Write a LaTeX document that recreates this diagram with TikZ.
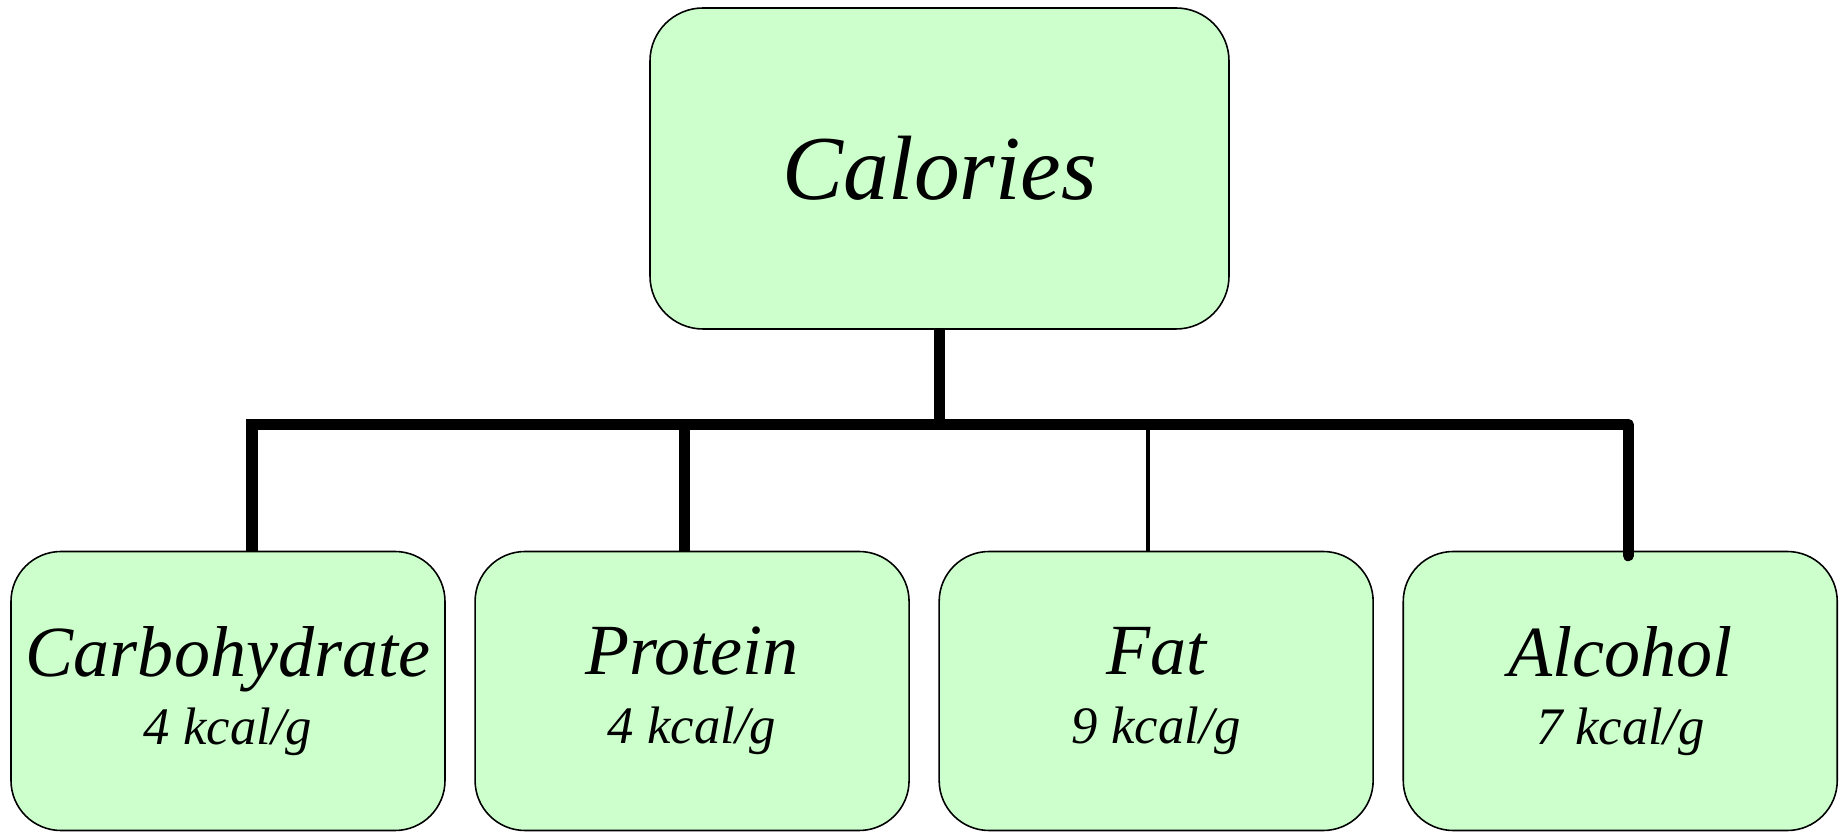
\documentclass[tikz,border=0pt]{standalone}
\usepackage{fontspec}
\setmainfont{Liberation Serif}
\usetikzlibrary{positioning}

\definecolor{boxgreen}{HTML}{CCFFCC}

\begin{document}
\begin{tikzpicture}[
    line join=miter,
    block/.style={draw, fill=boxgreen, line width=0.9pt, rounded corners=1cm, inner sep=0pt,
                  align=center, minimum width=8.68cm, minimum height=5.58cm,
                  font=\itshape\fontsize{30}{39}\selectfont},
    head/.style={block, rounded corners=1.06cm, minimum width=11.58cm, minimum height=6.42cm,
                 font=\itshape\fontsize{52}{60}\selectfont},
    trunk/.style={line width=6.3pt, line cap=butt},
    twig/.style={line width=2.3pt, line cap=butt}
]
\useasboundingbox (0,0) rectangle (36.88,-16.64);

% ------------------------
% Boxes
% ------------------------
\node[head] (cal) at (18.79,-3.37) {Calories};

\node[block] (carb) at (4.56,-13.82) {{\fontsize{41}{41}\selectfont Carbohydrate}\\4 kcal/g};
\node[block, right=0.57cm of carb] (prot) {{\fontsize{41}{41}\selectfont Protein}\\4 kcal/g};
\node[block, right=0.57cm of prot] (fat) {{\fontsize{41}{41}\selectfont Fat}\\9 kcal/g};
\node[block, right=0.57cm of fat] (alc) {{\fontsize{41}{41}\selectfont Alcohol}\\7 kcal/g};

% ------------------------
% Connectors
% ------------------------
\coordinate (bus) at (18.79,-8.49);
\coordinate (busR) at ([xshift=0.16cm]alc.north |- bus);

\draw[trunk] (cal.south) -- (bus);
\draw[trunk] ([xshift=0.48cm]carb.north) |- (busR);
\draw[trunk] ([xshift=-0.16cm]prot.north) -- ([xshift=-0.16cm]prot.north |- bus);
\draw[twig] ([xshift=-0.17cm]fat.north) -- ([xshift=-0.17cm]fat.north |- bus);
\draw[trunk, line cap=round] (busR) -- ([xshift=0.16cm, yshift=-0.1cm]alc.north);

\end{tikzpicture}
\end{document}
